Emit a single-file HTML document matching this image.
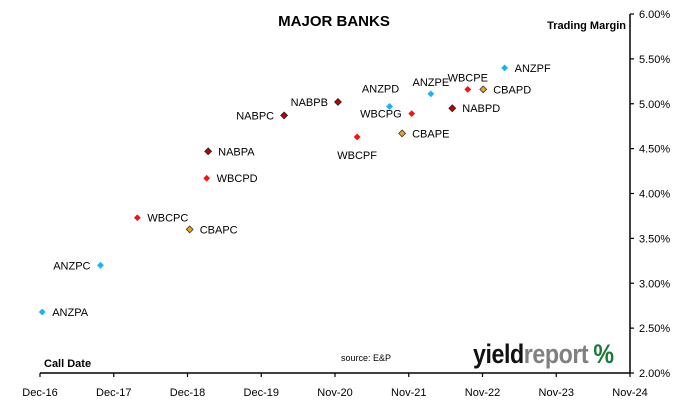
<!DOCTYPE html>
<html><head><meta charset="utf-8"><style>
body{margin:0;background:#fff;}
svg{display:block;font-family:"Liberation Sans",Arial,sans-serif;}
</style></head><body>
<svg id="chart" width="678" height="406" viewBox="0 0 678 406" xmlns="http://www.w3.org/2000/svg">
<rect width="678" height="406" fill="#fff"/>
<text x="334" y="26" text-anchor="middle" font-size="15" font-weight="bold">MAJOR BANKS</text>
<text x="626" y="29" text-anchor="end" font-size="11" font-weight="bold">Trading Margin</text>
<text x="44" y="367" font-size="11" font-weight="bold">Call Date</text>
<text x="341" y="361" font-size="9">source: E&amp;P</text>
<g font-size="27" font-weight="bold" transform="translate(473,363) scale(0.86,1)">
<text x="0" y="0" letter-spacing="-0.5"><tspan fill="#111">yield</tspan><tspan fill="#808080">report</tspan><tspan dx="6" fill="#1a7a3a">%</tspan></text>
</g>
<g id="axes"></g>
<g id="marks"></g>
</svg>
<script>
const labels=["ANZPA","ANZPC","WBCPC","CBAPC","WBCPD","NABPA","NABPC","NABPB","WBCPF","ANZPD","WBCPG","CBAPE","ANZPE","NABPD","WBCPE","CBAPD","ANZPF"];
const callYears=[0.03,0.82,1.32,2.03,2.26,2.28,3.31,4.04,4.30,4.74,5.04,4.91,5.30,5.59,5.80,6.01,6.30];
const margins=[2.68,3.20,3.73,3.60,4.17,4.47,4.87,5.02,4.63,4.97,4.89,4.67,5.11,4.95,5.16,5.16,5.40];
const banks=["ANZ","ANZ","WBC","CBA","WBC","NAB","NAB","NAB","WBC","ANZ","WBC","CBA","ANZ","NAB","WBC","CBA","ANZ"];
const labelPos=["r","l","r","r","r","r","l","l","b","tl","l","r","t","r","t","r","r"];
const xTickLabels=["Dec-16","Dec-17","Dec-18","Dec-19","Nov-20","Nov-21","Nov-22","Nov-23","Nov-24"];
const yTicks=[2,2.5,3,3.5,4,4.5,5,5.5,6];
const X0=40,X1=630,Y0=373,Y1=14,yMin=2,yMax=6,xMax=8;
const xs=v=>X0+(X1-X0)*v/xMax;
const ys=v=>Y0-(Y0-Y1)*(v-yMin)/(yMax-yMin);
const NS="http://www.w3.org/2000/svg";
function mk(t,a,p){const e=document.createElementNS(NS,t);for(const k in a)e.setAttribute(k,a[k]);p.appendChild(e);return e;}
const ax=document.getElementById('axes');
let l=mk('line',{x1:X0,y1:Y0,x2:X1,y2:Y0,stroke:'#000','stroke-width':1.5},ax);


l=mk('line',{x1:X1,y1:Y0,x2:X1,y2:Y1,stroke:'#000','stroke-width':1.5},ax);


xTickLabels.forEach((t,i)=>{
 const x=xs(i);
 const tk=mk('line',{x1:x,y1:Y0,x2:x,y2:Y0+4,stroke:'#000','stroke-width':1.2},ax);
 
 
 const tx=mk('text',{x:x,y:Y0+23,'text-anchor':'middle','font-size':11},ax);
 tx.textContent=t;
 
 
});
yTicks.forEach(v=>{
 const y=ys(v);
 const tk=mk('line',{x1:X1,y1:y,x2:X1+4,y2:y,stroke:'#000','stroke-width':1.2},ax);
 
 
 const tx=mk('text',{x:X1+9,y:y+4,'font-size':11},ax);
 tx.textContent=v.toFixed(2)+'%';
 
 
});
const fills={ANZ:'#1ab2ef',WBC:'#ff1010',NAB:'#c00000',CBA:'#e8a317'};
const strokes={ANZ:'none',WBC:'none',NAB:'#222',CBA:'#333'};
const mg=document.getElementById('marks');
labels.forEach((name,i)=>{
 const x=xs(callYears[i]),y=ys(margins[i]),b=banks[i],r=3.4;
 const d=mk('polygon',{points:`${x},${y-r} ${x+r},${y} ${x},${y+r} ${x-r},${y}`,fill:fills[b],stroke:strokes[b],'stroke-width':0.8},mg);
 
 
 const p=labelPos[i];let a={'font-size':11};
 if(p==='r'){a.x=x+10;a.y=y+4;}
 else if(p==='l'){a.x=x-10;a.y=y+4;a['text-anchor']='end';}
 else if(p==='b'){a.x=x;a.y=y+22;a['text-anchor']='middle';}
 else if(p==='t'){a.x=x;a.y=y-8;a['text-anchor']='middle';}
 else if(p==='tl'){a.x=x-9;a.y=y-14;a['text-anchor']='middle';}
 const t=mk('text',a,mg);t.textContent=name;
 
 
});
</script>
</body></html>
